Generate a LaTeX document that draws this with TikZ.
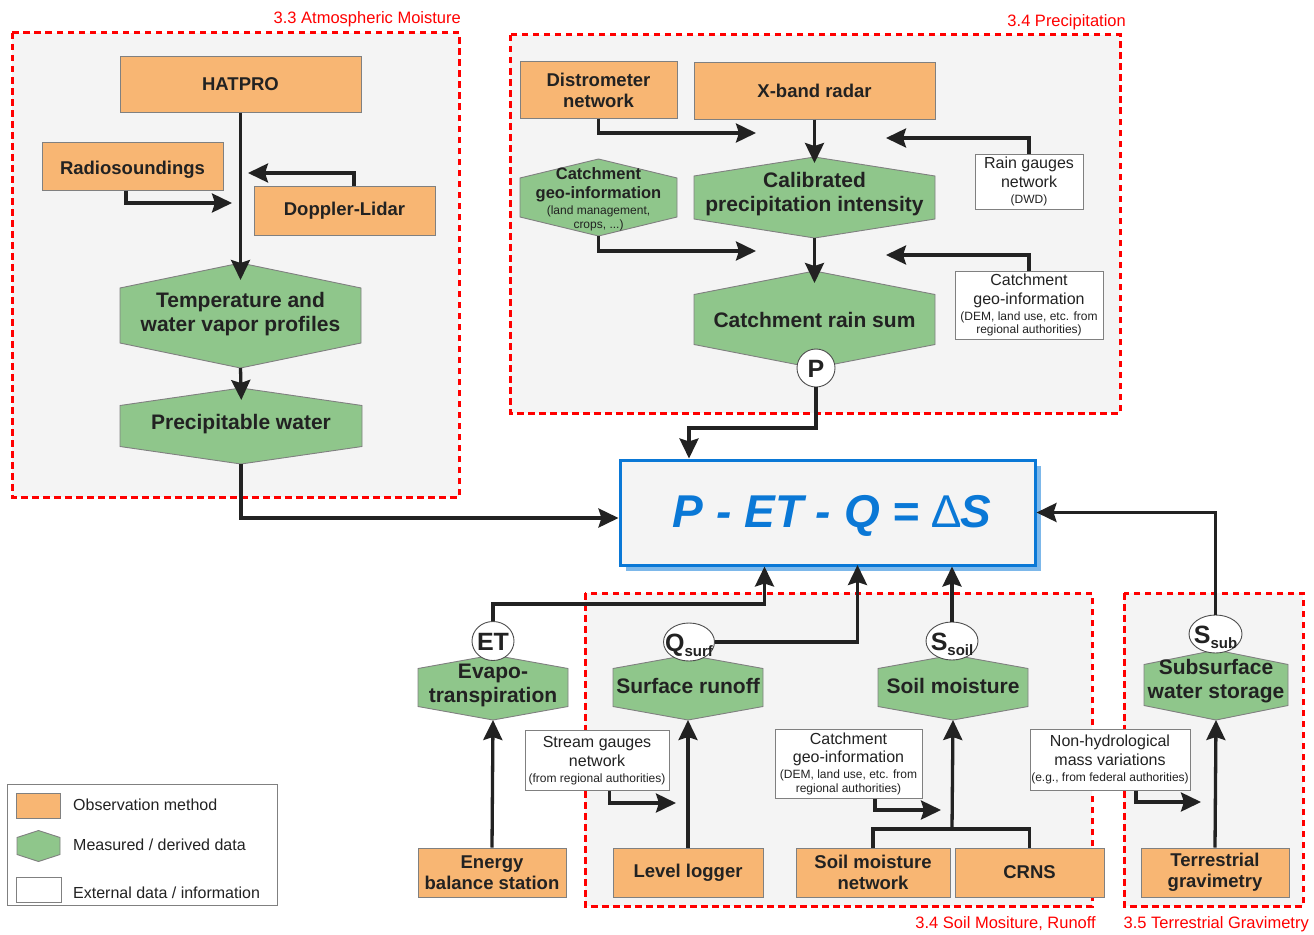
\documentclass[tikz,border=0pt]{standalone}
\usepackage{fontspec}
\setmainfont{Liberation Sans}
\usetikzlibrary{arrows.meta,shapes.geometric}
\definecolor{obsfill}{HTML}{F8B673}
\definecolor{hexfill}{HTML}{8FC68B}
\definecolor{edgegray}{HTML}{808080}
\definecolor{txt}{HTML}{222222}
\definecolor{regfill}{HTML}{F4F4F4}
\definecolor{regred}{HTML}{FF0000}
\definecolor{eqblue}{HTML}{0A78D6}
\definecolor{shadowblue}{HTML}{7DB8EA}
\tikzset{
  region/.style={draw=regred, line width=3pt, dash pattern=on 6.5pt off 4.5pt, fill=regfill},
  reglabel/.style={anchor=east, text=regred, font=\fontsize{16.5}{18}\selectfont, inner sep=0pt},
  obsbox/.style={draw=edgegray, line width=1pt, fill=obsfill, text=txt, font=\bfseries\fontsize{18.5}{21}\selectfont, align=center, inner sep=0pt},
  extbox/.style={draw=edgegray, line width=1pt, fill=white, text=txt, font=\fontsize{16}{18.5}\selectfont, align=center, inner sep=0pt},
  hexshape/.style={draw=edgegray, line width=0.9pt, fill=hexfill},
  hextext/.style={text=txt, font=\bfseries\fontsize{21}{24}\selectfont, align=center, inner sep=0pt},
  symb/.style={ellipse, draw=txt!80, line width=0.9pt, fill=white, inner sep=0pt, text=txt, font=\bfseries\fontsize{25}{25}\selectfont},
  conn/.style={draw=txt, line width=3.3pt, -{Stealth[length=20pt,width=19pt,inset=3pt]}},
  link/.style={draw=txt, line width=3.3pt},
  legtext/.style={anchor=west, text=txt, font=\fontsize{16}{18}\selectfont, inner sep=0pt},
}
\newcommand\smalltxt[1]{{\fontsize{12}{13.5}\selectfont #1}}
\newcommand\symtxt[1]{\smash{\makebox[0pt]{\raisebox{-9pt}{#1}}}}
\newcommand\subtxt[1]{\raisebox{-5pt}{\fontsize{15}{15}\selectfont #1}}
\newcommand\HexBox[8]{%
  \path[hexshape] ({#2-#4},{#3-#6}) -- (#2,{#3-#5}) -- ({#2+#4},{#3-#6}) -- ({#2+#4},{#3+#6}) -- (#2,{#3+#5}) -- ({#2-#4},{#3+#6}) -- cycle;
  \coordinate (#1T) at (#2,{#3-#5});
  \coordinate (#1B) at (#2,{#3+#5});
  \node[hextext,#7] (#1) at (#2,#3) {#8};}
\begin{document}
\begin{tikzpicture}[x=1pt,y=-1pt]
\useasboundingbox (0,0) rectangle (1314,934);
\fill[white] (0,0) rectangle (1314,934);
% regions
\draw[region] (12,33) rectangle (459,497);
\draw[region] (510,35) rectangle (1120,413);
\draw[region] (585,593) rectangle (1092,906);
\draw[region] (1124,593) rectangle (1303,906);
\node[reglabel] (lab33) at (461,19) {3.3 Atmospheric Moisture};
\node[reglabel] (lab34) at (1126,22) {3.4 Precipitation};
\node[reglabel] (lab34b) at (1096,924) {3.4 Soil Mositure, Runoff};
\node[reglabel] (lab35) at (1309,924) {3.5 Terrestrial Gravimetry};
% hexagons
\HexBox{temp}{240.5}{315.5}{120.5}{52.5}{27.5}{yshift=1.5pt}{Temperature and\\water vapor profiles}
\HexBox{precip}{241}{426}{121}{38}{20.5}{yshift=2pt}{Precipitable water}
\HexBox{catch}{598.5}{197.5}{78.5}{38.5}{19.5}{yshift=-2pt, font=\bfseries\fontsize{16.5}{19}\selectfont}{Catchment\\geo-information\\[-3pt]{\mdseries\fontsize{12}{13}\selectfont (land management,}\\[-5pt]{\mdseries\fontsize{12}{13}\selectfont crops, ...)}}
\HexBox{calib}{814.5}{197.5}{120.5}{40.5}{21.5}{yshift=3.5pt}{Calibrated\\precipitation intensity}
\HexBox{rainsum}{814.5}{319.5}{120.5}{48.5}{25}{}{Catchment rain sum}
\HexBox{evapo}{493}{687.5}{75}{32.5}{19}{yshift=2.5pt}{Evapo-\\transpiration}
\HexBox{surf}{688}{687.5}{75}{32.5}{19}{yshift=1.5pt}{Surface runoff}
\HexBox{soil}{953}{687.5}{75}{32.5}{19}{yshift=1.5pt}{Soil moisture}
\HexBox{sub}{1216}{685}{72}{35}{20.5}{yshift=4pt}{Subsurface\\water storage}
% observation boxes
\node[obsbox, minimum width=241pt, minimum height=55pt] (hatpro) at (240.5,84.5) {HATPRO};
\node[obsbox, minimum width=181pt, minimum height=48pt] (radio) at (132.5,166) {\raisebox{-4pt}[\height][\depth]{Radiosoundings}};
\node[obsbox, minimum width=181pt, minimum height=49pt] (doppler) at (344.5,210.5) {Doppler-Lidar};
\node[obsbox, minimum width=157pt, minimum height=56pt] (distro) at (598.5,90) {Distrometer\\network};
\node[obsbox, minimum width=241pt, minimum height=56pt] (xband) at (814.5,91) {X-band radar};
\node[obsbox, minimum width=148pt, minimum height=49pt] (energy) at (492,872.5) {Energy\\balance station};
\node[obsbox, minimum width=150pt, minimum height=49pt] (level) at (688,872.5) {Level logger};
\node[obsbox, minimum width=154pt, minimum height=49pt] (soilnet) at (873,872.5) {Soil moisture\\network};
\node[obsbox, minimum width=149pt, minimum height=49pt] (crns) at (1029.5,872.5) {CRNS};
\node[obsbox, minimum width=148pt, minimum height=49pt] (terr) at (1215,872.5) {Terrestrial\\gravimetry};
% external boxes
\node[extbox, minimum width=108pt, minimum height=55pt] (rain) at (1029,181.5) {Rain gauges\\network\\[-2.5pt]\smalltxt{(DWD)}};
\node[extbox, minimum width=148pt, minimum height=68pt] (cw1) at (1029,305) {Catchment\\geo-information\\[-2.5pt]\smalltxt{(DEM, land use, etc. from}\\[-5pt]\smalltxt{regional authorities)}};
\node[extbox, minimum width=144pt, minimum height=60pt] (stream) at (597,760.5) {Stream gauges\\network\\[-2.5pt]\smalltxt{(from regional authorities)}};
\node[extbox, minimum width=147pt, minimum height=69pt] (cw2) at (848.5,763.5) {Catchment\\geo-information\\[-2.5pt]\smalltxt{(DEM, land use, etc. from}\\[-5pt]\smalltxt{regional authorities)}};
\node[extbox, minimum width=160pt, minimum height=61pt] (nonhydro) at (1110,759.5) {Non-hydrological\\mass variations\\[-2.5pt]\smalltxt{(e.g., from federal authorities)}};
% balance equation
\fill[shadowblue] (626,466) rectangle (1041,571);
\node[draw=eqblue, line width=3pt, fill=regfill, minimum width=415pt, minimum height=105pt, inner sep=0pt] (balance) at (827.5,512.5) {};
\node[text=eqblue, font=\bfseries\itshape\fontsize{46}{46}\selectfont, inner sep=0pt] (equation) at (832,516) {P - ET - Q = {\upshape\mdseries ∆}S};
% symbols
\node[symb, minimum width=38pt, minimum height=38pt] (psym) at (816,368) {\symtxt{P}};
\node[symb, minimum width=42pt, minimum height=39pt] (et) at (493,641) {\symtxt{ET}};
\node[symb, minimum width=51pt, minimum height=38pt] (qsurf) at (689,642) {\symtxt{Q\subtxt{surf}}};
\node[symb, minimum width=52pt, minimum height=38pt] (ssoil) at (952,641) {\symtxt{S\subtxt{soil}}};
\node[symb, minimum width=53pt, minimum height=38pt] (ssub) at (1215.5,634) {\symtxt{S\subtxt{sub}}};
% legend
\node[draw=edgegray, line width=1pt, fill=white, minimum width=270pt, minimum height=121pt, inner sep=0pt] (legend) at (142,844.5) {};
\node[draw=edgegray, line width=1pt, fill=obsfill, minimum width=44pt, minimum height=25pt, inner sep=0pt] (lgobs) at (38,805.5) {};
\HexBox{lghex}{38.5}{846}{21.5}{15.5}{8.5}{}{}
\node[draw=edgegray, line width=1pt, fill=white, minimum width=45pt, minimum height=25pt, inner sep=0pt] (lgext) at (38.5,889.5) {};
\node[legtext] (lgt1) at (73,805) {Observation method};
\node[legtext] (lgt2) at (73,845) {Measured / derived data};
\node[legtext] (lgt3) at (73,893) {External data / information};
% coordinates for connector ends
\coordinate (radtip) at (232,203);
\coordinate (doptip) at (248,173);
\coordinate (distip) at (756,133);
\coordinate (raintip) at (886,138);
\coordinate (catchtip) at (756,251);
\coordinate (cw1tip) at (886,255);
\coordinate (pturn) at (689,428);
\coordinate (etturn) at (764.5,604);
\coordinate (qup) at (857.5,565);
\coordinate (sttip) at (676,803);
\coordinate (cw2tip) at (941,810);
\coordinate (nhtip) at (1201,802);
\coordinate (soiljoin) at (952,829);
% connectors
\draw[conn, shorten >=-17pt] (hatpro.south) -- (tempT);
\draw[conn, shorten >=-12pt] (tempB) -- (precipT);
\draw[conn] ([xshift=-6.5pt]radio.south) |- (radtip);
\draw[conn] ([xshift=9.5pt]doppler.north) |- (doptip);
\draw[conn] (precipB) |- ([yshift=-5.5pt]balance.west);
\draw[conn] (distro.south) |- (distip);
\draw[conn, shorten >=-6pt] (xband.south) -- (calibT);
\draw[conn] (rain.north) |- (raintip);
\draw[conn] (catchB) |- (catchtip);
\draw[conn, shorten >=-12pt] (calibB) -- (rainsumT);
\draw[conn] (cw1.north) |- (cw1tip);
\draw[conn] (psym.south) |- (pturn) -- (pturn |- balance.north);
\draw[conn] (et.north) |- (etturn) -- (etturn |- balance.south);
\draw[conn] (qsurf.east) -| (qup);
\draw[conn] (ssoil.north) -- (ssoil.north |- balance.south);
\draw[conn] (ssub.north) |- (balance.east);
\draw[conn] (energy.north) -- (evapoB);
\draw[conn] (level.north) -- (surfB);
\draw[conn] ([xshift=12.5pt]stream.south) |- (sttip);
\draw[link] (soilnet.north) |- (soiljoin) -| (crns.north);
\draw[conn] (soiljoin) -- (soilB);
\draw[conn] ([xshift=26.5pt]cw2.south) |- (cw2tip);
\draw[conn] ([xshift=26pt]nonhydro.south) |- (nhtip);
\draw[conn] (terr.north) -- (subB);
\end{tikzpicture}
\end{document}
